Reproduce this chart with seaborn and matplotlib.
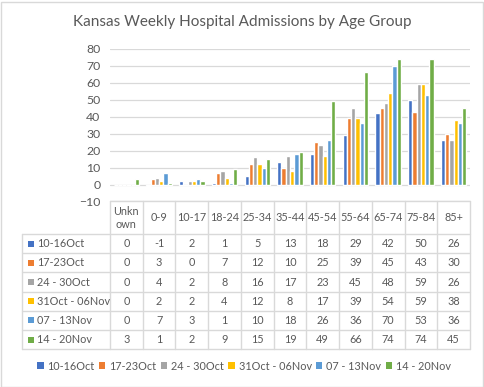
import pandas as pd
import matplotlib.pyplot as plt
import matplotlib.transforms as mtransforms
from matplotlib.lines import Line2D
from matplotlib.patches import Rectangle, Patch
import seaborn as sns

ages = ["Unknown", "0-9", "10-17", "18-24", "25-34", "35-44", "45-54",
        "55-64", "65-74", "75-84", "85+"]
age_labels = ["Unkn\nown", "0-9", "10-17", "18-24", "25-34", "35-44", "45-54",
              "55-64", "65-74", "75-84", "85+"]
weeks = ["10-16Oct", "17-23Oct", "24 - 30Oct", "31Oct - 06Nov", "07 - 13Nov", "14 - 20Nov"]

wk_10_16oct = [0, -1, 2, 1, 5, 13, 18, 29, 42, 50, 26]
wk_17_23oct = [0, 3, 0, 7, 12, 10, 25, 39, 45, 43, 30]
wk_24_30oct = [0, 4, 2, 8, 16, 17, 23, 45, 48, 59, 26]
wk_31oct_06nov = [0, 2, 2, 4, 12, 8, 17, 39, 54, 59, 38]
wk_07_13nov = [0, 7, 3, 1, 10, 18, 26, 36, 70, 53, 36]
wk_14_20nov = [3, 1, 2, 9, 15, 19, 49, 66, 74, 74, 45]
series = [wk_10_16oct, wk_17_23oct, wk_24_30oct, wk_31oct_06nov, wk_07_13nov, wk_14_20nov]

colors = ["#4472C4", "#ED7D31", "#A5A5A5", "#FFC000", "#5B9BD5", "#70AD47"]
txt = "#595959"
line_c = "#d9d9d9"

rows = []
for w, vals in zip(weeks, series):
    for a, v in zip(ages, vals):
        rows.append({"age": a, "week": w, "count": v})
df = pd.DataFrame(rows)

sns.set_style("white")
plt.rcParams["font.family"] = ["Lato", "DejaVu Sans"]

W, H = 485, 387
fig = plt.figure(figsize=(W / 100, H / 100), dpi=100)
ax = fig.add_axes([110 / W, 1 - 201.5 / H, 360 / W, (201.5 - 48.7) / H])

sns.barplot(data=df, x="age", y="count", hue="week", order=ages, hue_order=weeks,
            palette=colors, saturation=1, width=0.78, ax=ax, legend=False, zorder=3)

ax.set_ylim(-10, 80)
ax.set_xlim(-0.5, len(ages) - 0.5)
ax.set_yticks(range(-10, 81, 10))
ax.set_xticks([])
ax.set_xlabel("")
ax.set_ylabel("")
ax.grid(axis="y", color=line_c, linewidth=0.9, zorder=0)
for s in ax.spines.values():
    s.set_visible(False)
ax.tick_params(axis="y", length=0, pad=7, labelsize=8.8, labelcolor=txt)

fig.text(242 / W, 1 - 22 / H, "Kansas Weekly Hospital Admissions by Age Group",
         ha="center", va="center", fontsize=11, color=txt)

# data table below the plot
tr = mtransforms.blended_transform_factory(ax.transData, fig.transFigure)
def fy(y):
    return 1 - y / H

head_top, head_bot = 201.5, 234
row_h = (349.3 - 234) / 6
row_lines = [head_bot + i * row_h for i in range(7)]
x_left = -0.5 - (111 - 22.7) / (360 / len(ages))

fig.add_artist(Line2D([-0.5, len(ages) - 0.5], [fy(head_top)] * 2, transform=tr,
                      color=line_c, lw=1))
for y in row_lines:
    fig.add_artist(Line2D([x_left, len(ages) - 0.5], [fy(y)] * 2, transform=tr,
                          color=line_c, lw=1))
for i in range(len(ages) + 1):
    fig.add_artist(Line2D([i - 0.5, i - 0.5], [fy(head_top), fy(row_lines[-1])],
                          transform=tr, color=line_c, lw=1))
fig.add_artist(Line2D([x_left, x_left], [fy(head_bot), fy(row_lines[-1])],
                      transform=tr, color=line_c, lw=1))

for i, lab in enumerate(age_labels):
    fig.text(i, fy((head_top + head_bot) / 2), lab, transform=tr, ha="center",
             va="center", fontsize=7.8, color=txt, linespacing=1.2)

for r, (w, vals, c) in enumerate(zip(weeks, series, colors)):
    yc = fy(row_lines[r] + row_h / 2)
    fig.add_artist(Rectangle((28 / W, yc - 3 / H), 6 / W, 6 / H,
                             transform=fig.transFigure, color=c, lw=0))
    fig.text(37 / W, yc, w, ha="left", va="center", fontsize=7.8, color=txt)
    for i, v in enumerate(vals):
        fig.text(i, yc, str(v), transform=tr, ha="center", va="center",
                 fontsize=7.8, color=txt)

handles = [Patch(facecolor=c, edgecolor="none", label=w) for w, c in zip(weeks, colors)]
fig.legend(handles=handles, loc="center", bbox_to_anchor=(244 / W, fy(366)), ncol=6,
           frameon=False, fontsize=7.8, handlelength=0.6, handleheight=0.6,
           handletextpad=0.35, columnspacing=0.4, labelcolor=txt)

fig.add_artist(Rectangle((0.5 / W, 0.5 / H), 1 - 2 / W, 1 - 2 / H,
                         transform=fig.transFigure, fill=False, ec=line_c, lw=1))

fig.savefig("out.png", dpi=100)
plt.close(fig)
